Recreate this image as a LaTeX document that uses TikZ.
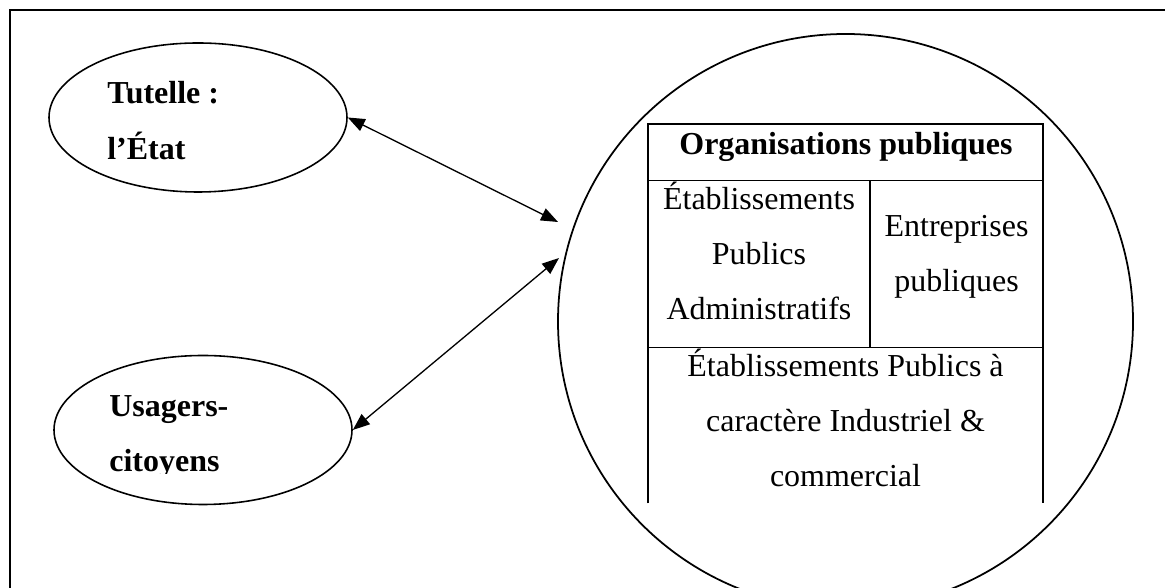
\documentclass[tikz,border=0pt]{standalone}
\usepackage{fontspec}
\setmainfont{Liberation Serif}
\usetikzlibrary{shapes.geometric, arrows.meta, positioning}

\tikzset{
	actor/.style={draw, ellipse, line width=0.9pt, minimum width=5.96cm, minimum height=2.98cm, inner sep=0pt},
	actortext/.style={anchor=base west, inner sep=0pt, align=left, font=\fontsize{18.2}{32.4}\selectfont\bfseries},
	celltext/.style={anchor=base, inner sep=0pt, align=center, font=\fontsize{18.2}{31.3}\selectfont},
	link/.style={<->, >={Triangle[length=0.34cm, width=0.26cm]}, line width=0.75pt},
}

\begin{document}
\begin{tikzpicture}
	\useasboundingbox (0,0) rectangle (23.3,11.76);
	\clip (0,0) rectangle (23.3,11.76);
	% Frame
	\draw[line width=1.1pt] (0.2,-1) rectangle (24,11.56);
	% Actors (base = last line)
	\node[actor] (tutelle) at (3.96,9.41) {};
	\node[actortext] (tutelleTxt) at (2.14,8.56) {Tutelle :\\l’État};
	\node[actor] (usagers) at (4.06,3.16) {};
	\begin{scope}
		\clip (0,2.28) rectangle (8,5.2);
		\node[actortext, font=\fontsize{18.2}{31.3}\selectfont\bfseries] (usagersTxt) at (2.18,2.32) {Usagers-\\citoyens};
	\end{scope}
	% Organisations
	\node[draw, circle, minimum size=11.5cm, inner sep=0pt, line width=1pt] (org) at (16.91,5.33) {};
	\coordinate (orgTop) at (11.16,7.32);
	\coordinate (orgBot) at (11.18,6.6);
	\draw[link] (tutelle.east) -- (orgTop);
	\draw[link] (usagers.east) -- (orgBot);
	% Table
	\draw[line width=1.1pt] (12.96,1.69) |- (20.86,9.28) -- (20.86,1.69);
	\draw[line width=1.1pt] (12.96,8.15) -- (20.86,8.15);
	\draw[line width=1.1pt] (17.4,8.15) -- (17.4,4.81);
	\draw[line width=1.1pt] (12.96,4.81) -- (20.86,4.81);
	\node[celltext, font=\fontsize{18.2}{31.3}\selectfont\bfseries] (title) at (16.92,8.66) {Organisations publiques};
	\node[celltext] (epa) at (15.18,5.36) {Établissements\\Publics\\Administratifs};
	\node[celltext] (ep) at (19.13,5.93) {Entreprises\\publiques};
	\node[celltext] (epic) at (16.91,2.03) {Établissements Publics à\\caractère Industriel \&\\commercial};
\end{tikzpicture}
\end{document}
